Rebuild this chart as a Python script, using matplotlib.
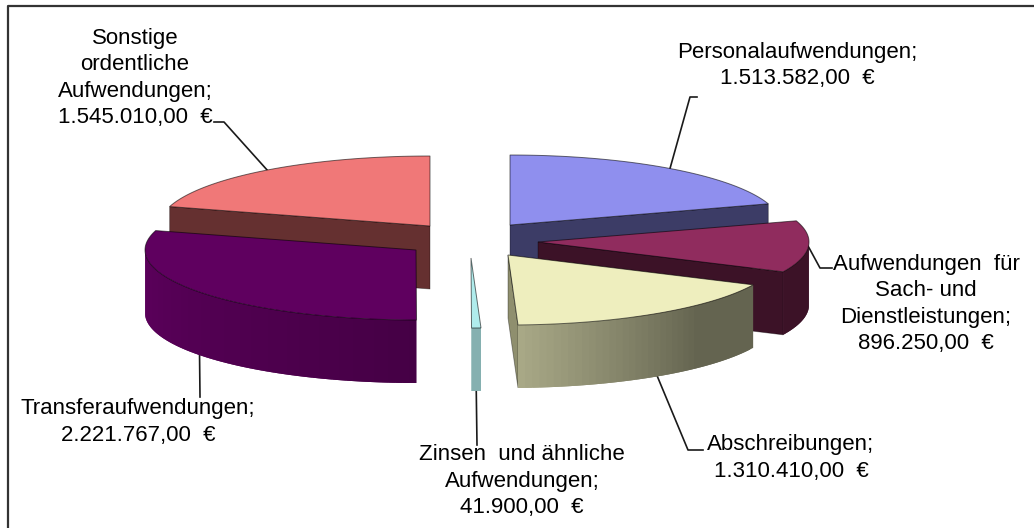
import matplotlib
matplotlib.use("Agg")
import matplotlib.pyplot as plt
import numpy as np
from matplotlib.patches import Polygon

plt.rcParams['font.family'] = ['Liberation Sans', 'DejaVu Sans']

categories = ["Personalaufwendungen", "Aufwendungen für Sach- und Dienstleistungen", "Abschreibungen",
              "Zinsen und ähnliche Aufwendungen", "Transferaufwendungen", "Sonstige ordentliche Aufwendungen"]
values = [1513582.00, 896250.00, 1310410.00, 41900.00, 2221767.00, 1545010.00]
labels = ["Personalaufwendungen;\n1.513.582,00  €",
          "Aufwendungen  für\nSach- und\nDienstleistungen;\n896.250,00  €",
          "Abschreibungen;\n1.310.410,00  €",
          "Zinsen  und ähnliche\nAufwendungen;\n41.900,00  €",
          "Transferaufwendungen;\n2.221.767,00  €",
          "Sonstige\nordentliche\nAufwendungen;\n1.545.010,00  €"]

top_colors = ['#8F8FEE', '#902C5E', '#EEEEBE', '#B0ECEC', '#5F005F', '#F07878']
cut_colors = ['#3C3C66', '#3C1227', '#8F8F6E', '#85B0B0', '#470047', '#653030']

# apex of every exploded slice, in pixels
centers = [(510, 225), (538, 242), (508, 255), (471, 258), (416, 250), (430, 226)]
label_pos = [(797, 65.5), (926, 304), (791, 458), (522, 481), (138, 422), (135, 78)]
# knee of the leader line and where it stops
knees = [[(690, 97), (697, 97)], [(820, 268), (832, 268)], [(688, 450), (703, 450)],
         [(477, 445)], [(200, 397)], [(224, 122), (214, 122)]]
anchor_on_wall = [False, False, True, True, True, False]

RX, RY, DEPTH = 271, 70, 63


def rim(cx, cy, deg):
    a = np.radians(deg)
    return cx + RX * np.sin(a), cy - RY * np.cos(a)


def wall_shade(deg):
    return np.interp(deg, [90, 135, 180, 270], [0.42, 0.42, 0.73, 0.97])


fig = plt.figure(figsize=(10.34, 5.28), dpi=100)
ax = fig.add_axes([0, 0, 1, 1])
ax.set_xlim(0, 1034)
ax.set_ylim(528, 0)
ax.axis('off')

# frame, only top and left are inside the crop
ax.plot([8, 8, 1034], [528, 6, 6], color='#333333', lw=1.6, zorder=1)

shares = np.array(values) / sum(values) * 360
ends = np.cumsum(shares)
starts = ends - shares
# back slices first, then the front ones on top of them
order = [0, 5, 1, 4, 2, 3]

for n, i in enumerate(order):
    z = 2 + n
    cx, cy = centers[i]
    a0, a1 = starts[i], ends[i]
    base = np.array(matplotlib.colors.to_rgb(top_colors[i]))

    # cut faces that look towards the viewer
    for deg, show in [(a0, np.sin(np.radians(a0)) < -0.01), (a1, np.sin(np.radians(a1)) > 0.01)]:
        if show:
            x, y = rim(cx, cy, deg)
            ax.add_patch(Polygon([(cx, cy), (x, y), (x, y + DEPTH), (cx, cy + DEPTH)], closed=True,
                                 fc=cut_colors[i], ec='#00000060', lw=0.6, zorder=z))

    # outer wall in small steps for the gradient, each one overlaps the next
    lo, hi = max(a0, 90), min(a1, 270)
    if hi > lo:
        steps = np.linspace(lo, hi, max(int((hi - lo) / 1.5), 2) + 1)
        for k in range(len(steps) - 1):
            d0 = steps[k]
            d1 = steps[min(k + 2, len(steps) - 1)]
            arc = np.linspace(d0, d1, 6)
            xs, ys = rim(cx, cy, arc)
            c = base * wall_shade(d0)
            if i == 3:
                c = matplotlib.colors.to_rgb(cut_colors[i])
            pts = np.column_stack([np.r_[xs, xs[::-1]], np.r_[ys, ys[::-1] + DEPTH]])
            ax.add_patch(Polygon(pts, closed=True, fc=c, ec='none', lw=0, zorder=z))

    # top face
    arc = np.linspace(a0, a1, 80)
    xs, ys = rim(cx, cy, arc)
    pts = np.column_stack([np.r_[cx, xs], np.r_[cy, ys]])
    ax.add_patch(Polygon(pts, closed=True, fc=top_colors[i], ec='#00000090', lw=0.7, zorder=z + 0.5))

    # leader line from the middle of the slice
    mid = (a0 + a1) / 2
    x, y = rim(cx, cy, mid)
    if anchor_on_wall[i]:
        y += DEPTH
    line = [(x, y)] + knees[i]
    ax.plot([p[0] for p in line], [p[1] for p in line], color='#1A1A1A', lw=1.2, zorder=1.5)

    ax.text(label_pos[i][0], label_pos[i][1], labels[i], ha='center', va='center', ma='center',
            fontsize=16, linespacing=1.32, color='black', zorder=20)

fig.savefig("out.png", dpi=100)
